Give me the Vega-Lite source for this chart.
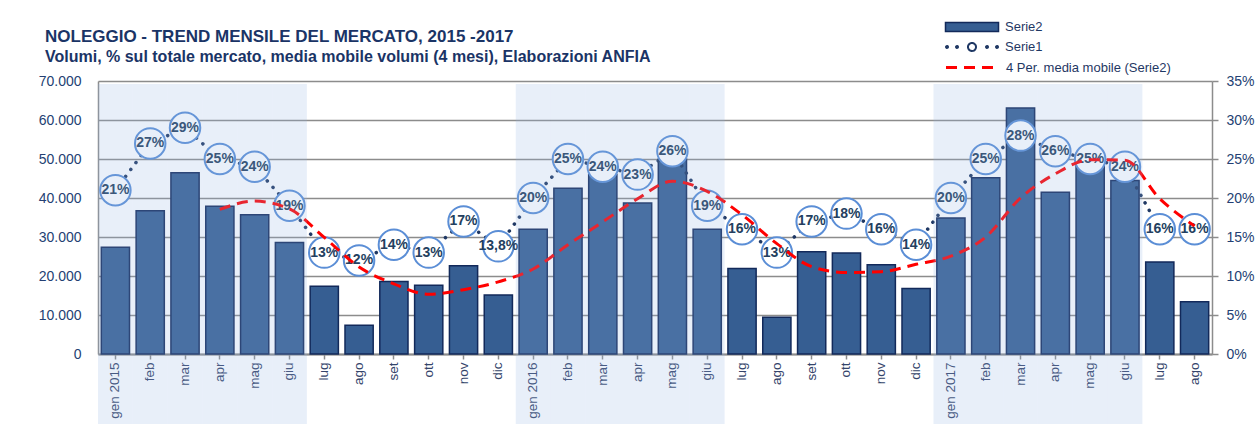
{
  "$schema": "https://vega.github.io/schema/vega-lite/v6.json",
  "width": 1114,
  "height": 273,
  "autosize": {"type": "none"},
  "padding": {"left": 98, "top": 81, "right": 48, "bottom": 84},
  "background": "white",
  "config": {
    "view": {"stroke": null},
    "font": "Liberation Sans",
    "legend": {
      "title": null,
      "orient": "none",
      "symbolSize": 400,
      "labelOffset": 22,
      "labelLimit": 400,
      "labelFont": "Liberation Sans",
      "labelFontSize": 13,
      "labelColor": "#1f3864",
      "symbolOpacity": 1
    }
  },
  "title": {
    "text": "NOLEGGIO - TREND MENSILE DEL MERCATO, 2015 -2017",
    "subtitle": "Volumi, % sul totale mercato, media mobile volumi (4 mesi), Elaborazioni  ANFIA",
    "anchor": "start",
    "frame": "group",
    "dx": -53,
    "dy": 68,
    "offset": 18,
    "font": "Liberation Sans",
    "fontSize": 17,
    "fontWeight": "bold",
    "color": "#1a3466",
    "subtitleFont": "Liberation Sans",
    "subtitleFontSize": 16,
    "subtitleFontWeight": "bold",
    "subtitleColor": "#1a3466",
    "subtitlePadding": 3
  },
  "data": {
    "values": [
      {"mese": "gen 2015", "vol": 27400, "pct": 21, "mm": null},
      {"mese": "feb 2015", "vol": 36700, "pct": 27, "mm": null},
      {"mese": "mar 2015", "vol": 46500, "pct": 29, "mm": null},
      {"mese": "apr 2015", "vol": 37900, "pct": 25, "mm": 37100},
      {"mese": "mag 2015", "vol": 35700, "pct": 24, "mm": 39200},
      {"mese": "giu 2015", "vol": 28600, "pct": 19, "mm": 37200},
      {"mese": "lug 2015", "vol": 17400, "pct": 13, "mm": 29900},
      {"mese": "ago 2015", "vol": 7400, "pct": 12, "mm": 22300},
      {"mese": "set 2015", "vol": 18600, "pct": 14, "mm": 18000},
      {"mese": "ott 2015", "vol": 17600, "pct": 13, "mm": 15300},
      {"mese": "nov 2015", "vol": 22600, "pct": 17, "mm": 16500},
      {"mese": "dic 2015", "vol": 15100, "pct": 13.8, "mm": 18500},
      {"mese": "gen 2016", "vol": 32000, "pct": 20, "mm": 21800},
      {"mese": "feb 2016", "vol": 42500, "pct": 25, "mm": 28000},
      {"mese": "mar 2016", "vol": 46000, "pct": 24, "mm": 33900},
      {"mese": "apr 2016", "vol": 38700, "pct": 23, "mm": 39800},
      {"mese": "mag 2016", "vol": 50000, "pct": 26, "mm": 44300},
      {"mese": "giu 2016", "vol": 32000, "pct": 19, "mm": 41700},
      {"mese": "lug 2016", "vol": 21900, "pct": 16, "mm": 35700},
      {"mese": "ago 2016", "vol": 9400, "pct": 13, "mm": 28300},
      {"mese": "set 2016", "vol": 26200, "pct": 17, "mm": 22400},
      {"mese": "ott 2016", "vol": 25900, "pct": 18, "mm": 20900},
      {"mese": "nov 2016", "vol": 22900, "pct": 16, "mm": 21100},
      {"mese": "dic 2016", "vol": 16800, "pct": 14, "mm": 23000},
      {"mese": "gen 2017", "vol": 34900, "pct": 20, "mm": 25100},
      {"mese": "feb 2017", "vol": 45200, "pct": 25, "mm": 30000},
      {"mese": "mar 2017", "vol": 63100, "pct": 28, "mm": 40000},
      {"mese": "apr 2017", "vol": 41500, "pct": 26, "mm": 46200},
      {"mese": "mag 2017", "vol": 49500, "pct": 25, "mm": 49800},
      {"mese": "giu 2017", "vol": 44500, "pct": 24, "mm": 49700},
      {"mese": "lug 2017", "vol": 23600, "pct": 16, "mm": 39800},
      {"mese": "ago 2017", "vol": 13400, "pct": 16, "mm": 32800}
    ]
  },
  "transform": [
    {"calculate": "replace(toString(datum.pct), '.', ',') + '%'", "as": "etichetta"}
  ],
  "encoding": {
    "x": {
      "field": "mese", "type": "nominal", "sort": null,
      "scale": {
        "domain": ["gen 2015","feb 2015","mar 2015","apr 2015","mag 2015","giu 2015","lug 2015","ago 2015","set 2015","ott 2015","nov 2015","dic 2015","gen 2016","feb 2016","mar 2016","apr 2016","mag 2016","giu 2016","lug 2016","ago 2016","set 2016","ott 2016","nov 2016","dic 2016","gen 2017","feb 2017","mar 2017","apr 2017","mag 2017","giu 2017","lug 2017","ago 2017"],
        "paddingInner": 0.19, "paddingOuter": 0.095
      },
      "axis": {
        "title": null,
        "labelAngle": -90,
        "labelExpr": "indexof(datum.value, 'gen') === 0 ? datum.value : split(datum.value, ' ')[0]",
        "labelFont": "Liberation Sans",
        "labelFontSize": 13.5,
        "labelColor": "#34446a",
        "labelPadding": 3,
        "tickSize": 5,
        "tickColor": "#8c8c8c",
        "tickWidth": 1.5,
        "domainColor": "#8c8c8c",
        "domainWidth": 2,
        "grid": false
      }
    }
  },
  "resolve": {"scale": {"y": "independent"}},
  "layer": [
    {
      "mark": {"type": "bar", "stroke": "#12295a", "strokeWidth": 1.5},
      "encoding": {
        "y": {
          "field": "vol", "type": "quantitative",
          "scale": {"domain": [0, 70000]},
          "axis": {
            "orient": "left",
            "title": null,
            "values": [0, 10000, 20000, 30000, 40000, 50000, 60000, 70000],
            "labelExpr": "replace(format(datum.value, ','), ',', '.')",
            "labelFont": "Liberation Sans",
            "labelFontSize": 14,
            "labelColor": "#243f73",
            "labelPadding": 17,
            "tickSize": 0,
            "domainColor": "#8c8c8c",
            "domainWidth": 1.5,
            "grid": true,
            "gridColor": "#8c8c8c",
            "gridWidth": 1.5
          }
        },
        "fill": {
          "datum": "Serie2",
          "type": "nominal",
          "scale": {"range": ["#365e92"]},
          "legend": {
            "legendX": 863,
            "legendY": -65,
            "symbolType": "M-2.65,-0.45H2.65V0.45H-2.65Z",
            "symbolStrokeColor": "#12295a",
            "symbolStrokeWidth": 1.5
          }
        }
      }
    },
    {
      "mark": {"type": "line", "strokeWidth": 3.5, "strokeDash": [0.1, 8.5], "strokeCap": "round"},
      "encoding": {
        "y": {"field": "pct", "type": "quantitative", "scale": {"domain": [0, 35]}, "axis": null},
        "stroke": {
          "datum": "Serie1",
          "type": "nominal",
          "scale": {"range": ["#1f3864"]},
          "legend": {
            "legendX": 863,
            "legendY": -45,
            "symbolType": "M-2.6,0a0.1,0.1 0 1,0 0.2,0a0.1,0.1 0 1,0 -0.2,0ZM-1.6,0a0.1,0.1 0 1,0 0.2,0a0.1,0.1 0 1,0 -0.2,0ZM1.4,0a0.1,0.1 0 1,0 0.2,0a0.1,0.1 0 1,0 -0.2,0ZM2.4,0a0.1,0.1 0 1,0 0.2,0a0.1,0.1 0 1,0 -0.2,0ZM-0.4,0a0.4,0.4 0 1,0 0.8,0a0.4,0.4 0 1,0 -0.8,0Z",
            "symbolStrokeWidth": 2,
            "symbolDash": [1, 0]
          }
        }
      }
    },
    {
      "mark": {"type": "point", "filled": true, "fill": "white", "stroke": "#5b8ed6", "strokeWidth": 2, "size": 930, "opacity": 1},
      "encoding": {
        "y": {
          "field": "pct", "type": "quantitative",
          "scale": {"domain": [0, 35]},
          "axis": {
            "orient": "right",
            "title": null,
            "values": [0, 5, 10, 15, 20, 25, 30, 35],
            "labelExpr": "datum.value + '%'",
            "labelFont": "Liberation Sans",
            "labelFontSize": 14,
            "labelColor": "#243f73",
            "labelPadding": 8,
            "tickSize": 6,
            "tickColor": "#8c8c8c",
            "tickWidth": 1.5,
            "domainColor": "#8c8c8c",
            "domainWidth": 1.5,
            "grid": false
          }
        }
      }
    },
    {
      "mark": {"type": "text", "font": "Liberation Sans", "fontSize": 14, "fontWeight": "bold", "color": "#243f60", "align": "center", "baseline": "middle"},
      "encoding": {
        "y": {"field": "pct", "type": "quantitative", "scale": {"domain": [0, 35]}, "axis": null},
        "text": {"field": "etichetta"}
      }
    },
    {
      "mark": {"type": "line", "stroke": "#ff0000", "strokeWidth": 3, "interpolate": "monotone"},
      "encoding": {
        "y": {"field": "mm", "type": "quantitative", "scale": {"domain": [0, 70000]}, "axis": null},
        "strokeDash": {
          "datum": "4 Per. media mobile (Serie2)",
          "type": "nominal",
          "scale": {"range": [[11, 7]]},
          "legend": {
            "legendX": 863,
            "legendY": -25,
            "symbolType": "M-2.65,0H2.65",
            "symbolStrokeColor": "#ff0000",
            "symbolStrokeWidth": 3
          }
        }
      }
    },
    {
      "mark": {"type": "bar", "fill": "#91b4e4", "width": {"band": 1.2346}},
      "encoding": {
        "y": {"datum": 69200, "type": "quantitative", "scale": {"domain": [0, 70000]}, "axis": null},
        "y2": {"datum": -17950},
        "opacity": {
          "condition": {"test": "indexof(['gen','feb','mar','apr','mag','giu'], split(datum.mese, ' ')[0]) >= 0", "value": 0.21},
          "value": 0
        }
      }
    }
  ]
}
